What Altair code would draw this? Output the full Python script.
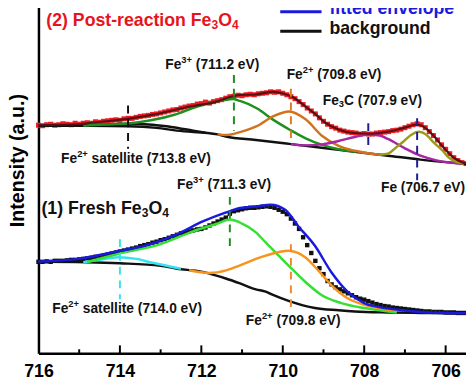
import altair as alt
import pandas as pd

FONT = "Liberation Sans, Arial, sans-serif"

# ---------------- measured spectra (0.1 eV grid, 716.0 -> 705.5) ----------------
E_GRID = [round(716.0 - 0.1 * i, 1) for i in range(106)]

post_data = [
    232, 231.5, 232.5, 233, 232, 232.5, 233.5, 233, 232.5, 234,
    233, 234, 234.5, 234, 235.5, 235, 236, 236.5, 237, 237.5,
    237, 238.5, 239, 239, 240, 241, 241.5, 242, 243, 243.5,
    244.5, 245.5, 246.5, 247.5, 248, 249.5, 250.5, 251.5, 252, 253.5,
    254, 255.5, 254.5, 256, 257, 258, 259.5, 261, 261.5, 262.5,
    262, 263, 263.5, 263, 264, 264.5, 265, 266, 265.5, 266,
    264.5, 263, 261, 259, 256, 253, 249.5, 246.5, 243.5, 239.5,
    236, 233, 230.5, 229, 227, 226, 225, 224.5, 224, 223,
    223.5, 223, 223, 224, 224.5, 225, 225.5, 226.5, 227, 228,
    229.5, 231, 232.5, 233.5, 232.5, 229.5, 225.5, 221.5, 217, 212,
    207.5, 203, 199, 196, 194, 193,
]

fresh_data = [
    93, 93, 93.5, 93, 94, 94, 94, 94.5, 95, 95,
    95.5, 96, 96.5, 97, 98, 98.5, 99.5, 100.5, 101.5, 102.5,
    103.5, 104.5, 105.5, 106.5, 107.5, 109, 110, 111, 112.5, 113.5,
    115, 116, 117.5, 119, 120.5, 122, 123, 124, 125, 126,
    126.5, 128, 130, 132, 134, 136, 138, 142, 144.5, 145.5,
    146.5, 147.5, 148, 148, 148.5, 149, 149.5, 149, 148, 146,
    144, 141.5, 137, 132, 126.5, 118, 110, 102, 94, 86.5,
    80.5, 73.5, 70, 67, 65, 63, 61, 59, 57, 55.5,
    54.5, 53, 51.5, 50, 49, 48, 47.5, 46.5, 46, 45.5,
    45, 44.5, 44, 43.5, 43, 42.5, 42.5, 42, 42, 42,
    41.5, 41.5, 41.5, 41, 41, 41,
]

# ---------------- fitted curves ----------------
post_bg_E = [716.0, 714.8, 713.8, 713.1, 712.6, 711.6, 711.4, 710.66, 709.84, 708.63, 707.42, 706.62, 705.5]
post_bg_I = [231.5, 231.4, 231, 229.3, 226.5, 222.7, 220.5, 217, 213, 207, 201, 197, 192.5]

post_env_E = [716.0, 715.0, 714.7, 713.81, 713.08, 712.28, 711.63, 711.39, 711.05, 710.66, 710.24, 710.0,
              709.77, 709.44, 709.19, 708.95, 708.63, 708.31, 707.83, 707.42, 707.02, 706.7, 706.5,
              706.29, 706.05, 705.81, 705.5]
post_env_I = [232, 233, 234.5, 238.5, 243.5, 251, 256, 259.5, 262.7, 263.3, 266, 264.3,
              261, 251, 243, 234.3, 227.7, 224.3, 223.3, 225.3, 229.3, 232.7, 229.3,
              221, 209.3, 199.3, 192.7]

post_sat_E = [715.0, 714.4, 713.8, 713.2, 712.7, 712.2, 711.9]
post_sat_I = [231.4, 232.5, 233.5, 232.5, 230, 226.5, 224.5]

post_fe3_E = [714.9, 714.4, 713.81, 713.24, 712.66, 712.1, 711.63, 711.39, 711.23, 711.05, 710.64,
              710.24, 709.84, 709.44, 709.03, 708.63, 708.2]
post_fe3_I = [231.4, 232.7, 233.7, 237, 242.7, 251, 256, 258, 258.7, 256.7, 249.3,
              237.7, 227.7, 218.7, 212, 207.5, 205]

post_fe2_E = [711.6, 711.39, 711.05, 710.64, 710.24, 709.84, 709.44, 709.03, 708.63, 708.23, 707.83, 707.6]
post_fe2_I = [222.7, 222, 225, 231, 241, 246, 238, 221, 211, 206, 203, 202]

post_fe3c_E = [709.8, 709.5, 709.03, 708.63, 708.23, 707.92, 707.62, 707.42, 707.02, 706.62, 706.2, 705.9, 705.6]
post_fe3c_I = [212.8, 211.5, 212.5, 216, 220, 222.5, 221.5, 218, 209, 201, 196, 194, 192.8]

post_fe_E = [707.62, 707.42, 707.2, 707.02, 706.85, 706.66, 706.5, 706.29, 706.05, 705.93, 705.75, 705.55]
post_fe_I = [202, 203, 210, 216, 222, 225.3, 223, 214.3, 205, 199.3, 195, 192.7]

fresh_bg_E = [716.0, 714.0, 713.0, 712.6, 712.0, 711.8, 711.4, 711.05, 710.66, 710.42, 710.24, 709.84,
              709.21, 708.63, 708.23, 707.42, 706.6, 705.5]
fresh_bg_I = [93.3, 91.5, 89, 86, 83, 81, 76, 71, 65, 62.7, 59.3, 53,
              46, 43.7, 42.5, 41.5, 41, 40.5]

fresh_env_E = [716.0, 715.02, 714.05, 713.4, 712.6, 711.95, 711.39, 711.05, 710.66, 710.3, 709.94,
               709.62, 709.21, 708.81, 708.41, 708.0, 707.6, 707.0, 706.4, 705.5]
fresh_env_I = [93.3, 96, 103.7, 109.3, 121, 134.3, 143.3, 147.7, 149.3, 151, 146,
               129.3, 109.3, 82.7, 62.7, 51, 46.7, 43.5, 41.5, 40.7]

fresh_sat_E = [714.9, 714.5, 714.05, 713.6, 713.2, 712.8, 712.5]
fresh_sat_I = [92.5, 95, 97.7, 96, 92, 88.5, 86]

fresh_fe3_E = [714.8, 714.05, 713.0, 712.19, 711.6, 711.3, 711.05, 710.66, 710.42, 710.1, 709.78,
               709.45, 709.05, 708.56, 708.0, 707.5, 707.2]
fresh_fe3_I = [92.8, 101, 111, 124.3, 132, 136, 133, 123, 112.7, 99.3, 86,
               72.7, 59.3, 51, 46, 43, 41.5]

fresh_fe2_E = [712.3, 711.8, 711.39, 711.05, 710.66, 710.42, 709.86, 709.45, 709.13, 708.81, 708.41,
               708.0, 707.6, 707.2]
fresh_fe2_I = [84.5, 81.7, 84.3, 89.3, 96, 99.3, 104.3, 97.7, 84.3, 69.3, 56,
               49.3, 45.5, 43]

# ---------------- peak markers (dashed) ----------------
mark_E = [713.8, 711.2, 709.8, 707.9, 706.7, 714.0, 711.3, 709.8]
mark_I1 = [252, 283, 269, 234, 239, 116, 159, 111]
mark_I2 = [208, 226, 214, 208, 176, 55, 106, 47]
mark_col = ["#111111", "#1e8c1e", "#e07a22", "#1c1c96", "#1c1c96", "#33e4f0", "#1e8c1e", "#f08a30"]

# ---------------- annotations: (left px, baseline px, font size, colour, segments) ----------------
RED, BLK, BLU = "#e8141b", "#111111", "#1a1adf"
annotations = [
    (47, 23, 18, RED, [("(2) Post-reaction Fe", "n"), ("3", "sub"), ("O", "n"), ("4", "sub")]),
    (42, 214, 18, BLK, [("(1) Fresh Fe", "n"), ("3", "sub"), ("O", "n"), ("4", "sub")]),
    (168, 67, 14, BLK, [("Fe", "n"), ("3+", "sup"), (" (711.2 eV)", "n")]),
    (291.5, 76.5, 14, BLK, [("Fe", "n"), ("2+", "sup"), (" (709.8 eV)", "n")]),
    (328.3, 103, 14, BLK, [("Fe", "n"), ("3", "sub"), ("C (707.9 eV)", "n")]),
    (62, 162.5, 14, BLK, [("Fe", "n"), ("2+", "sup"), (" satellite (713.8 eV)", "n")]),
    (387.5, 192, 14, BLK, [("Fe (706.7 eV)", "n")]),
    (180, 189, 14, BLK, [("Fe", "n"), ("3+", "sup"), (" (711.3 eV)", "n")]),
    (53, 315.3, 14, BLK, [("Fe", "n"), ("2+", "sup"), (" satellite (714.0 eV)", "n")]),
    (250, 327, 14, BLK, [("Fe", "n"), ("2+", "sup"), (" (709.8 eV)", "n")]),
    (335, 11, 18, BLU, [("fitted envelope", "n")]),
    (335, 31.2, 18, BLK, [("background", "n")]),
]
legend_px = [(285, 327, 8.5, BLU), (285, 327, 28.3, BLK)]
ytitle_text = "Intensity (a.u.)"

major_ticks = [714, 712, 710, 708, 706]
minor_ticks = [715, 713, 711, 709, 707]

# ---------------- geometry helpers (pixel annotation -> data units) ----------------
W_PLOT, H_PLOT = 435, 356
E_MIN, E_MAX = 705.5, 716.0
PX_PER_EV = W_PLOT / (E_MAX - E_MIN)
LEFT_PAGE = 39  # page x of the plot's left edge


def px_to_E(px):
    return E_MAX - (px - LEFT_PAGE) / PX_PER_EV


def py_to_I(py):
    return H_PLOT - py


ADV = {' ': 278, '(': 333, ')': 333, '+': 584, '-': 333, '.': 278, 'C': 722, 'F': 611, 'O': 778,
       'P': 667, 'V': 667, 'a': 556, 'c': 556, 'e': 556, 'h': 611, 'i': 278, 'l': 278, 'n': 611,
       'o': 611, 'r': 389, 's': 556, 't': 333}


def adv(s, size):
    return sum(ADV.get(ch, 556) for ch in s) * size / 1000.0


lab_rows = []
for x0, base, f, col, segs in annotations:
    x = x0
    for txt, kind in segs:
        size = f if kind == "n" else 0.68 * f
        lead = len(txt) - len(txt.lstrip(" "))
        x_draw = x + adv(txt[:lead], size)
        if kind == "sup":
            yb = base - 0.43 * f
        elif kind == "sub":
            yb = base + 0.2 * f
        else:
            yb = base
        lab_rows.append({"t": txt.strip(), "E": px_to_E(x_draw), "I": py_to_I(yb),
                         "col": col, "fs": size})
        x += adv(txt, size)
lab_df = pd.DataFrame(lab_rows)

leg_df = pd.DataFrame([{"E": px_to_E(a), "E2": px_to_E(b), "I": py_to_I(y), "col": c}
                       for a, b, y, c in legend_px])

# ---------------- build tables ----------------
curves = [
    ("post_bg", post_bg_E, post_bg_I, "#111111"),
    ("post_sat", post_sat_E, post_sat_I, "#111111"),
    ("post_fe3", post_fe3_E, post_fe3_I, "#1e9020"),
    ("post_fe2", post_fe2_E, post_fe2_I, "#d2731c"),
    ("post_fe3c", post_fe3c_E, post_fe3c_I, "#a626a4"),
    ("post_fe", post_fe_E, post_fe_I, "#9c9a1a"),
    ("fresh_bg", fresh_bg_E, fresh_bg_I, "#111111"),
    ("fresh_sat", fresh_sat_E, fresh_sat_I, "#33e4f0"),
    ("fresh_fe3", fresh_fe3_E, fresh_fe3_I, "#33e033"),
    ("fresh_fe2", fresh_fe2_E, fresh_fe2_I, "#f7941d"),
    ("fresh_env", fresh_env_E, fresh_env_I, "#1a1adf"),
]
rows = []
for name, es, is_, col in curves:
    for k, (e, v) in enumerate(zip(es, is_)):
        rows.append({"curve": name, "E": e, "I": v, "col": col, "idx": k})
curve_df = pd.DataFrame(rows)

post_env_df = pd.DataFrame({"E": post_env_E, "I": post_env_I, "idx": range(len(post_env_E))})
post_df = pd.DataFrame({"E": E_GRID, "I": post_data})
fresh_df = pd.DataFrame({"E": E_GRID, "I": fresh_data})
mark_df = pd.DataFrame({"E": mark_E, "I": mark_I1, "I2": mark_I2, "col": mark_col})
maj_df = pd.DataFrame({"E": major_ticks})
min_df = pd.DataFrame({"E": minor_ticks})
ytitle_df = pd.DataFrame({"t": [ytitle_text], "E": [px_to_E(18.5)], "I": [py_to_I(160)]})

xscale = alt.Scale(domain=[E_MIN, E_MAX], reverse=True, nice=False, zero=False)
yscale = alt.Scale(domain=[0, H_PLOT], nice=False, zero=False)
xaxis = alt.Axis(values=[706, 708, 710, 712, 714, 716], format="d", labelFont=FONT,
                 labelFontSize=18, labelFontWeight="bold", labelColor="black", ticks=False,
                 domainColor="black", domainWidth=2.5, grid=False, title=None,
                 labelPadding=10, labelFlush=False)
yaxis = alt.Axis(labels=False, ticks=False, grid=False, title=None,
                 domainColor="black", domainWidth=2.5)

X = alt.X("E:Q", scale=xscale, axis=xaxis)
Y = alt.Y("I:Q", scale=yscale, axis=yaxis)

lines = alt.Chart(curve_df).mark_line(interpolate="monotone", strokeWidth=2.5).encode(
    x=X, y=Y, color=alt.Color("col:N", scale=None), detail="curve:N", order="idx:Q")

post_pts = alt.Chart(post_df).mark_square(size=26, color="#ee1c25", opacity=1).encode(x=X, y=Y)
post_env = alt.Chart(post_env_df).mark_line(interpolate="monotone", strokeWidth=2.2,
                                            color="#5a1010").encode(x=X, y=Y, order="idx:Q")
fresh_pts = alt.Chart(fresh_df).mark_square(size=20, color="#111111", opacity=1).encode(x=X, y=Y)

markers = alt.Chart(mark_df).mark_rule(strokeWidth=2, strokeDash=[8, 6]).encode(
    x=X, y=Y, y2="I2:Q", color=alt.Color("col:N", scale=None))

legend_lines = alt.Chart(leg_df).mark_rule(strokeWidth=3).encode(
    x=X, x2="E2:Q", y=Y, color=alt.Color("col:N", scale=None))

labels = alt.Chart(lab_df).mark_text(align="left", baseline="alphabetic", font=FONT,
                                     fontWeight="bold").encode(
    x=X, y=Y, text="t:N", color=alt.Color("col:N", scale=None),
    size=alt.Size("fs:Q", scale=None))

ytitle = alt.Chart(ytitle_df).mark_text(angle=270, align="center", baseline="middle", font=FONT,
                                        fontWeight="bold", fontSize=20, color="black").encode(
    x=X, y=Y, text="t:N")

maj = alt.Chart(maj_df).mark_rule(strokeWidth=2, color="black").encode(
    x=X, y=alt.value(356), y2=alt.value(348))
mnr = alt.Chart(min_df).mark_rule(strokeWidth=2, color="black").encode(
    x=X, y=alt.value(356), y2=alt.value(352))

chart = alt.layer(
    post_pts, fresh_pts, lines, post_env, markers, maj, mnr, legend_lines, labels, ytitle
).properties(
    width=W_PLOT, height=H_PLOT,
    padding={"left": 31, "top": -8, "right": 0, "bottom": 26},
    autosize=alt.AutoSizeParams(type="none"),
).configure_view(stroke=None).configure(background="white")

chart.save("out.html", embed_options={"renderer": "svg", "actions": False})
